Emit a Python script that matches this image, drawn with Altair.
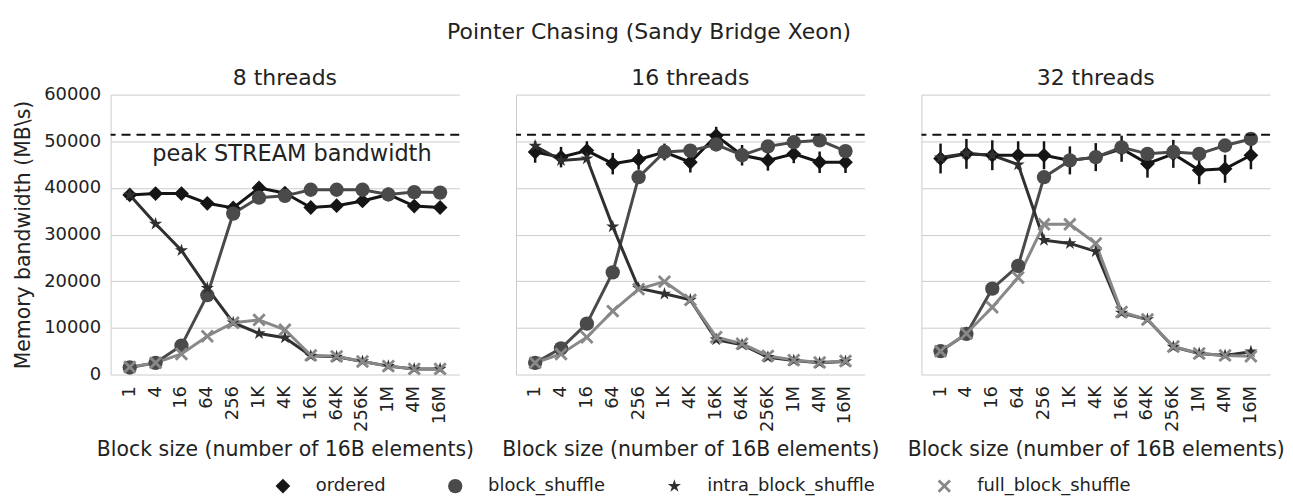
import altair as alt
import pandas as pd

blocks = ["1", "4", "16", "64", "256", "1K", "4K", "16K", "64K", "256K", "1M", "4M", "16M"]
panels = ["8 threads", "16 threads", "32 threads"]
series_names = ["ordered", "block_shuffle", "intra_block_shuffle", "full_block_shuffle"]

ordered_8 = [38500, 38800, 38800, 36700, 35700, 40000, 38900, 35800, 36200, 37200, 38600, 36100, 35800]
block_8 = [1500, 2500, 6200, 17000, 34500, 37900, 38300, 39600, 39600, 39600, 38600, 39100, 39000]
intra_8 = [38500, 32300, 26600, 18500, 11100, 8800, 7900, 4000, 3800, 2800, 1800, 1200, 1200]
full_8 = [1600, 2500, 4400, 8200, 11100, 11700, 9600, 4100, 3900, 2800, 1800, 1200, 1200]
err_8 = [500, 500, 500, 500, 500, 500, 500, 500, 500, 500, 500, 500, 500]

ordered_16 = [47700, 46600, 48000, 45200, 46100, 47700, 45500, 51200, 47000, 45900, 47300, 45500, 45500]
block_16 = [2500, 5600, 10900, 21900, 42300, 47700, 48000, 49300, 47000, 48900, 49800, 50200, 47900]
intra_16 = [49000, 45900, 46300, 31700, 18500, 17300, 16000, 7500, 6400, 3700, 3000, 2500, 2800]
full_16 = [2500, 4400, 8000, 13600, 18300, 19900, 16000, 8000, 6600, 4000, 3100, 2600, 2900]
err_16 = [2300, 2200, 2000, 2300, 2200, 1800, 2200, 1900, 2200, 2200, 2000, 2300, 2300]

ordered_32 = [46300, 47300, 47000, 47000, 47000, 45900, 46600, 48400, 45200, 47300, 43800, 44100, 47000]
block_32 = [5000, 8700, 18400, 23300, 42300, 45900, 46600, 48700, 47300, 47700, 47300, 49100, 50500]
intra_32 = [46500, 47400, 47000, 45000, 28800, 28100, 26400, 13200, 11800, 5900, 4500, 4100, 4900]
full_32 = [5000, 8800, 14400, 20800, 32200, 32200, 28100, 13400, 11800, 6000, 4500, 4100, 3900]
err_32 = [3200, 3200, 3200, 3000, 3000, 3000, 3000, 2800, 3000, 3000, 3000, 3000, 3000]

peak_stream = 51400

series_data = {
    "8 threads": [ordered_8, block_8, intra_8, full_8],
    "16 threads": [ordered_16, block_16, intra_16, full_16],
    "32 threads": [ordered_32, block_32, intra_32, full_32],
}
err_data = {"8 threads": err_8, "16 threads": err_16, "32 threads": err_32}

rows = []
for p in panels:
    for s, vals in zip(series_names, series_data[p]):
        for i, (b, v) in enumerate(zip(blocks, vals)):
            rows.append({"panel": p, "series": s, "block": b, "idx": i, "value": v})
df = pd.DataFrame(rows)

err_rows = []
for p in panels:
    for b, v, e in zip(blocks, series_data[p][0], err_data[p]):
        err_rows.append({"panel": p, "block": b, "lo": v - e, "hi": v + e})
edf = pd.DataFrame(err_rows)

colors = ["#151515", "#4a4a4a", "#303030", "#888888"]
star = "M0,-1L0.2245,-0.309L0.951,-0.309L0.3633,0.118L0.5878,0.809L0,0.382L-0.5878,0.809L-0.3633,0.118L-0.951,-0.309L-0.2245,-0.309Z"
xshape = "M-1,-0.7L-0.7,-1L0,-0.3L0.7,-1L1,-0.7L0.3,0L1,0.7L0.7,1L0,0.3L-0.7,1L-1,0.7L-0.3,0Z"
shapes = ["diamond", "circle", star, xshape]
sizes = [220, 180, 280, 140]

FONT = "DejaVu Sans"
YVALS = [0, 10000, 20000, 30000, 40000, 50000, 60000]


def make_panel(p, first):
    d = df[df.panel == p]
    e = edf[edf.panel == p]
    x = alt.X(
        "block:N",
        sort=blocks,
        scale=alt.Scale(domain=blocks, padding=0.48),
        axis=alt.Axis(
            title="Block size (number of 16B elements)",
            labelAngle=-90,
            labelFontSize=18,
            titleFontSize=20.5,
            labelPadding=11,
            titlePadding=8,
            ticks=False,
            domain=False,
            grid=False,
        ),
    )
    if first:
        yaxis = alt.Axis(
            title="Memory bandwidth (MB\\s)",
            values=YVALS,
            format="d",
            labelFontSize=18,
            titleFontSize=20.5,
            labelPadding=10,
            titlePadding=10,
            ticks=False,
            domainColor="#cccccc",
            gridColor="#cccccc",
        )
    else:
        yaxis = alt.Axis(
            title=None,
            values=YVALS,
            labels=False,
            ticks=False,
            domainColor="#cccccc",
            gridColor="#cccccc",
        )
    y = alt.Y("value:Q", scale=alt.Scale(domain=[0, 60000]), axis=yaxis)
    leg = alt.Legend(
        title=None,
        orient="none",
        direction="horizontal",
        legendX=164,
        legendY=384,
        labelFontSize=18,
        labelOffset=24,
        labelLimit=400,
        columnPadding=60,
        symbolStrokeWidth=0,
    )
    color = alt.Color("series:N", scale=alt.Scale(domain=series_names, range=colors), legend=leg)
    shape = alt.Shape("series:N", scale=alt.Scale(domain=series_names, range=shapes), legend=leg)
    size = alt.Size("series:N", scale=alt.Scale(domain=series_names, range=sizes), legend=leg)

    errs = alt.Chart(e).mark_rule(strokeWidth=2.5, color=colors[0]).encode(
        x=x,
        y=alt.Y("lo:Q", scale=alt.Scale(domain=[0, 60000]), axis=yaxis),
        y2="hi:Q",
    )
    lines = alt.Chart(d).mark_line(strokeWidth=3).encode(
        x=x, y=y, color=color, order=alt.Order("idx:Q"),
    )
    pts = alt.Chart(d).mark_point(filled=True, opacity=1, strokeWidth=0).encode(
        x=x, y=y, color=color, shape=shape, size=size
    )
    rule = alt.Chart(pd.DataFrame({"peak": [peak_stream]})).mark_rule(
        strokeDash=[9, 6], strokeWidth=2.2, color="#111111"
    ).encode(y=alt.Y("peak:Q", scale=alt.Scale(domain=[0, 60000]), axis=yaxis))
    layers = [errs, lines, pts, rule]
    if first:
        txt = alt.Chart(pd.DataFrame({"v": [47300], "t": ["peak STREAM bandwidth"]})).mark_text(
            fontSize=22.5, font=FONT, color="#222222", align="center", baseline="middle"
        ).encode(y=alt.Y("v:Q", scale=alt.Scale(domain=[0, 60000]), axis=yaxis), text="t:N", x=alt.value(182))
        layers.append(txt)
    return alt.layer(*layers).properties(
        width=350,
        height=281,
        title=alt.TitleParams(p, fontSize=22, fontWeight="normal", font=FONT, color="#222222",
                              offset=(-4 if first else 5)),
    )


chart = alt.hconcat(
    *[make_panel(p, i == 0) for i, p in enumerate(panels)], spacing=57, bounds="flush"
).properties(
    title=alt.TitleParams(
        "Pointer Chasing (Sandy Bridge Xeon)", fontSize=22, fontWeight="normal", font=FONT,
        color="#222222", anchor="middle", offset=23,
    ),
    padding={"left": 5, "top": 12, "right": 0, "bottom": 0},
).configure(font=FONT).configure_view(strokeWidth=0).configure_axis(
    labelColor="#222222", titleColor="#222222", labelFont=FONT, titleFont=FONT, titleFontWeight="normal"
).configure_legend(labelColor="#222222", labelFont=FONT)

chart.save("out.html", embed_options={"renderer": "svg", "actions": False})
